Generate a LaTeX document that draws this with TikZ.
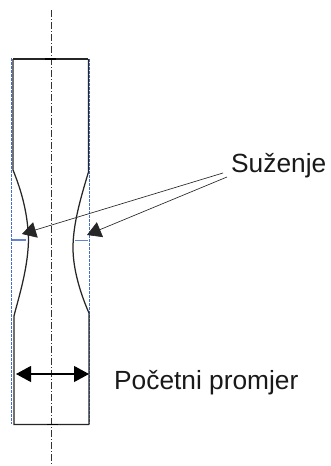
\documentclass[tikz,border=0pt]{standalone}
\usepackage{fontspec}
\setmainfont{Liberation Sans}
\usetikzlibrary{arrows.meta}
\definecolor{guideblue}{RGB}{70,110,200}
\tikzset{
  outline/.style={line width=1.25pt,black!85},
  axisline/.style={line width=0.9pt,black!80,dash pattern=on 7pt off 2pt on 1pt off 2pt},
  guide/.style={line width=1pt,guideblue,dash pattern=on 3pt off 1pt},
  tick/.style={line width=1.1pt,guideblue!85},
  leader/.style={line width=0.65pt,black!85,-{Triangle[length=14pt,width=16pt]}},
  dimline/.style={line width=1.1pt,black,{Triangle[length=15pt,width=16pt]}-{Triangle[length=15pt,width=16pt]}},
  lab/.style={font=\fontsize{26.3}{30}\selectfont,inner sep=0pt,text=black!90}
}
\begin{document}
\begin{tikzpicture}[x=1pt,y=-1pt]
\useasboundingbox (0,0) rectangle (331,466);
\fill[white] (0,0) rectangle (331,466);
% guides
\draw[guide] (11,58) -- (11,424);
\draw[guide] (89,59) -- (89,424);
\draw[tick] (12,240) -- (26,240);
\draw[tick] (75,240.7) -- (88,240.7);
% outline
\draw[outline] (13,59) -- (88,59);
\draw[outline] (13,59) -- (13,170) .. controls (22,192) and (28,215) .. (28.5,240)
   .. controls (28,265) and (21,290) .. (15,312) -- (14,316) -- (14,424.5) -- (89,424.5);
\draw[outline] (88.5,59) -- (88.5,172) .. controls (80,200) and (73,225) .. (73,248)
   .. controls (73,270) and (81,295) .. (89,313) -- (89,424.5);
% axis
\coordinate (axT) at (51,10);
\coordinate (axB) at (51,466);
\draw[axisline] (axT) -- (axB);
\draw[line width=1.5pt,black] (45,59) -- (56,59);
\draw[line width=1.5pt,black] (47,424.5) -- (58,424.5);
% labels
\node[lab,anchor=base west] (suz) at (231,172) {Suženje};
\node[lab,anchor=base west] (poc) at (114,389) {Početni promjer};
% leaders
\coordinate (tipL) at (22,234);
\coordinate (tipR) at (87,235);
\coordinate (startL) at (223,173);
\coordinate (startR) at (227,177);
\draw[leader] (startL) -- (tipL);
\draw[leader] (startR) -- (tipR);
% dimension
\coordinate (dimL) at (16,374);
\coordinate (dimR) at (89,374);
\draw[dimline] (dimL) -- (dimR);
\end{tikzpicture}
\end{document}
